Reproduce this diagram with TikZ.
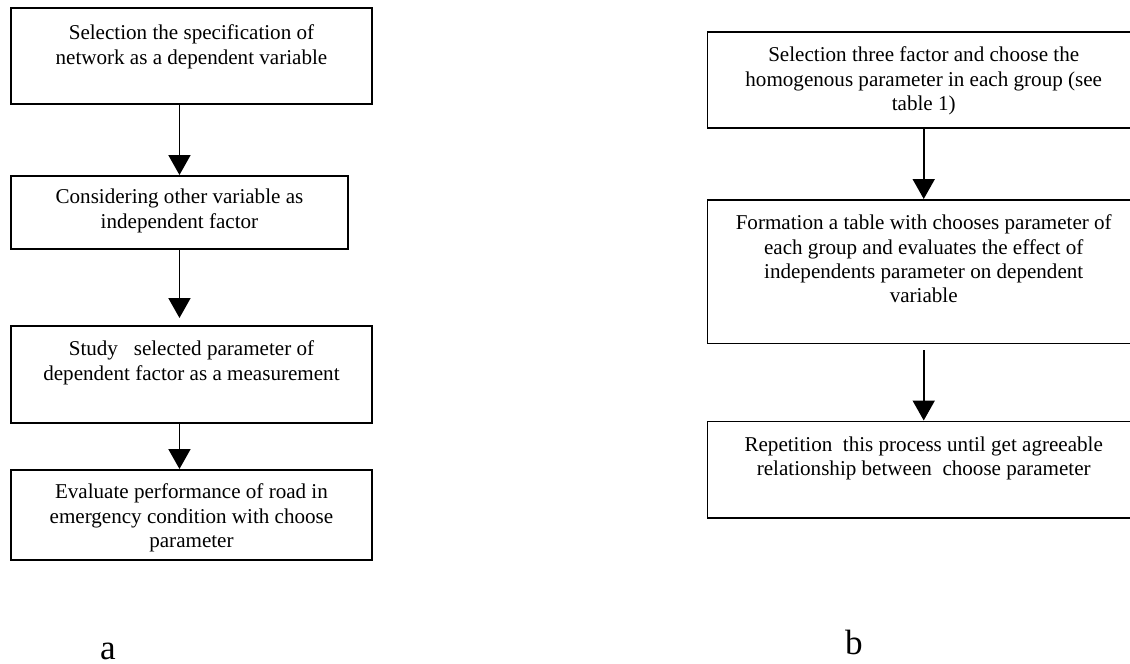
\documentclass[tikz,border=0pt]{standalone}
\usepackage{fontspec}
\setmainfont{Liberation Serif}
\usepackage{tikz}
\usetikzlibrary{positioning, calc, arrows.meta}

% box text: fixed size, lines hung from the top
\newcommand{\steptext}[4][0.6cm]{\parbox[c][#3][t]{#2}{\centering\rule{0pt}{#1}#4}}

\begin{document}
\begin{tikzpicture}[
    stepbox/.style={draw, line width=1.1pt, inner sep=0pt, anchor=north west,
                    font=\fontsize{12}{13.8}\selectfont},
    flowarrow/.style={-{Triangle[width=0.44cm,length=0.4cm]}, line width=1.1pt},
    caption/.style={anchor=base, font=\fontsize{20}{24}\selectfont}
]

    \useasboundingbox (0,0) rectangle (22.6,-13.28);

    % ================= (a) left chart =================
    \begin{scope}
        % Boxes
        \node[stepbox] (a1) at (0.2,-0.14)
            {\steptext[0.64cm]{7.22cm}{1.92cm}{Selection the specification of\\network as a dependent variable}};
        \node[stepbox] (a2) at (0.2,-3.5)
            {\steptext[0.56cm]{6.74cm}{1.46cm}{Considering other variable as\\independent factor}};
        \node[stepbox] (a3) at (0.2,-6.5)
            {\steptext{7.22cm}{1.94cm}{Study\ \ \ selected parameter of\\dependent factor as a measurement}};
        \node[stepbox] (a4) at (0.2,-9.38)
            {\steptext[0.58cm]{7.22cm}{1.8cm}{Evaluate performance of road in\\emergency condition with choose\\parameter}};

        % Arrows
        \draw[flowarrow] (a1.south -| a2.north) -- (a2.north);
        \draw[flowarrow] (a2.south) -- ([yshift=0.14cm]a2.south |- a3.north);
        \draw[flowarrow] (a3.south -| a2.south) -- (a4.north -| a2.south);

        \node[caption] (capa) at (2.16,-13.18) {a};
    \end{scope}

    % ================= (b) right chart =================
    \begin{scope}
        % Boxes (cut by the right edge)
        \node[stepbox] (b1) at (14.13,-0.62)
            {\steptext{8.65cm}{1.93cm}{Selection three factor and choose the\\homogenous parameter in each group (see\\table 1)}};
        \node[stepbox] (b2) at (14.13,-3.98)
            {\steptext{8.65cm}{2.87cm}{Formation a table with chooses parameter of\\each group and evaluates the effect of\\independents parameter on dependent\\variable}};
        \node[stepbox] (b3) at (14.13,-8.41)
            {\steptext{8.65cm}{1.93cm}{Repetition\ \ this process until get agreeable\\relationship between\ \ choose parameter}};

        % Arrows
        \draw[flowarrow] (b1.south) -- (b2.north);
        \draw[flowarrow] ([yshift=-0.12cm]b2.south) -- (b3.north);

        \node[caption] (capb) at (17.08,-13.08) {b};
    \end{scope}

\end{tikzpicture}
\end{document}
